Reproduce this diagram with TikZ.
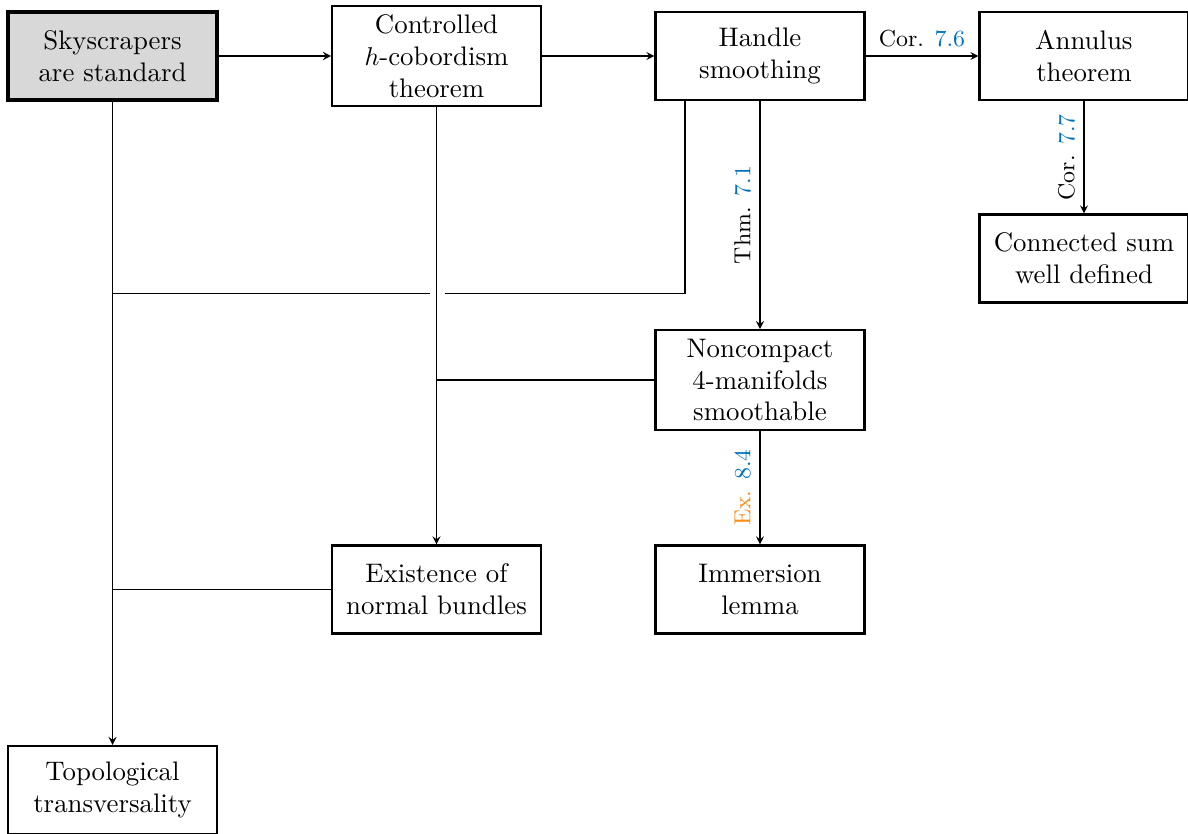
\documentclass[tikz,border=0pt]{standalone}
\usetikzlibrary{arrows}
\definecolor{refblue}{RGB}{0,114,189}
\definecolor{exorange}{RGB}{255,140,20}
\definecolor{mainfill}{RGB}{216,216,216}
\begin{document}
\begin{tikzpicture}[>=stealth,
    box/.style={draw,thick,align=center,font=\fontsize{10.4}{12.4}\selectfont,
      text width=2.6cm,minimum width=2.847cm,minimum height=1.199cm},
    main/.style={box,very thick,fill=mainfill},
    lbl/.style={font=\small}]
  \useasboundingbox (0,0) rectangle (16.185,-11.362);
  % ---- the results ----
  \node[main] (sky)     at (1.533,-0.763)  {Skyscrapers\\are standard};
  \node[box]  (ctrl)    at (5.947,-0.763)  {Controlled\\$h$-cobordism\\theorem};
  \node[box]  (handle)  at (10.354,-0.763) {Handle\\smoothing};
  \node[box]  (annulus) at (14.768,-0.763) {Annulus\\theorem};
  \node[box]  (connsum) at (14.768,-3.522) {Connected sum\\well defined};
  \node[box]  (noncpt)  at (10.354,-5.177) {Noncompact\\4-manifolds\\smoothable};
  \node[box]  (normal)  at (5.947,-8.031)  {Existence of\\normal bundles};
  \node[box]  (immers)  at (10.354,-8.031) {Immersion\\lemma};
  \node[box]  (transv)  at (1.533,-10.763) {Topological\\transversality};
  % ---- implications ----
  \draw[->] (sky) -- (ctrl);
  \draw[->] (ctrl) -- (handle);
  \draw[->] (handle) -- node[lbl,above] {Cor. \textcolor{refblue}{7.6}} (annulus);
  \draw[->] (annulus) -- node[lbl,anchor=south,rotate=90] {Cor. \textcolor{refblue}{7.7}} (connsum);
  \draw[->] (handle) -- node[lbl,anchor=south,rotate=90] {Thm. \textcolor{refblue}{7.1}} (noncpt);
  \draw[->] (noncpt) -- node[lbl,anchor=south,rotate=90] {\textcolor{exorange}{Ex.} \textcolor{refblue}{8.4}} (immers);
  \draw[->] (ctrl) -- (normal);
  \draw[->] (sky) -- (transv);
  % ---- joining lines, with a gap where they cross ----
  \coordinate (hs)   at ([xshift=-1.022cm]handle.south);
  \coordinate (gapR) at (6.063,-4.005);
  \coordinate (gapL) at (5.858,-4.005);
  \draw (hs) |- (gapR);
  \draw (gapL) -- (gapL -| sky.south);
  \draw (noncpt.west) -- (noncpt.west -| ctrl.south);
  \draw (normal.west) -- (normal.west -| sky.south);
\end{tikzpicture}
\end{document}
